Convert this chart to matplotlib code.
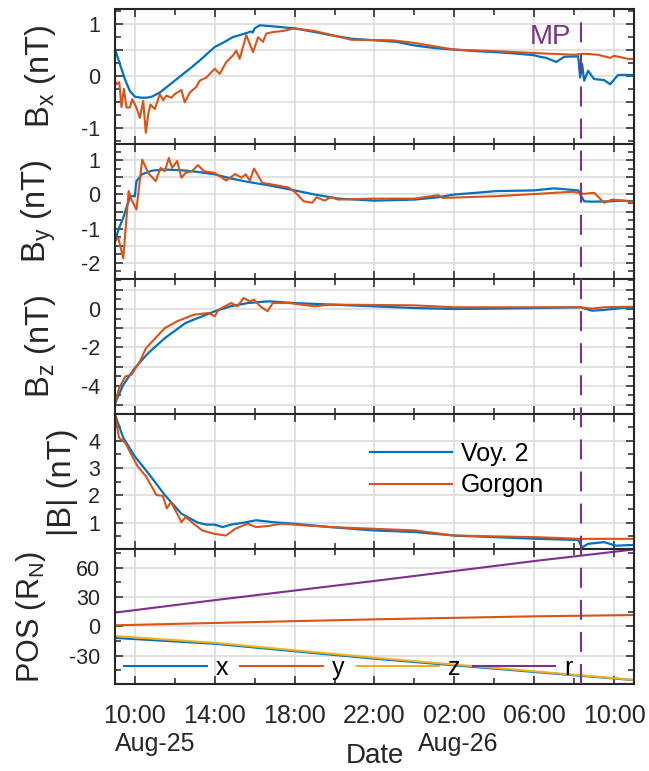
# --------------------------------------------------
#   Voyager 2 vs Gorgon magnetic field and position
# --------------------------------------------------
import numpy as np
import matplotlib
matplotlib.use('Agg')
import matplotlib.pyplot as plt
import matplotlib.dates as mdates
from matplotlib.ticker import MultipleLocator, FuncFormatter
from matplotlib.lines import Line2D
from matplotlib.transforms import blended_transform_factory

# --------------------------------------------------
# 1 - Data (hours after 10:00 on Aug-25)
# --------------------------------------------------
bx_voy_t = [-1.0, -0.75, -0.5, -0.25, 0.0, 0.3, 0.6, 0.85, 1.25, 2.0, 2.75, 3.25,
            4.0, 4.5, 4.9, 5.6, 5.8, 5.9, 6.0, 6.25, 6.9, 8.0, 9.0, 9.8, 10.85,
            12.0, 13.1, 14.0, 15.0, 16.0, 17.1, 18.1, 19.2, 20.0, 20.3, 20.6,
            21.1, 21.5, 22.2, 22.3, 22.4, 22.5, 22.7, 23.0, 23.5, 23.8, 24.2, 25.0]
bx_voy = [0.53, 0.23, -0.06, -0.29, -0.40, -0.42, -0.42, -0.40, -0.32, -0.09, 0.14,
          0.30, 0.56, 0.66, 0.75, 0.83, 0.86, 0.84, 0.92, 0.98, 0.96, 0.92, 0.85,
          0.79, 0.72, 0.69, 0.66, 0.59, 0.54, 0.51, 0.48, 0.46, 0.43, 0.40, 0.37,
          0.35, 0.27, 0.37, 0.38, -0.03, 0.23, -0.09, 0.10, -0.06, -0.08, -0.16,
          0.02, 0.02]
bx_gor_t = [-1.0, -0.9, -0.78, -0.67, -0.55, -0.42, -0.25, -0.13, 0.08, 0.25, 0.42,
            0.55, 0.67, 0.78, 1.0, 1.25, 1.42, 1.58, 1.83, 2.0, 2.33, 2.5, 2.75,
            3.08, 3.25, 3.58, 4.0, 4.25, 4.58, 4.92, 5.08, 5.25, 5.58, 5.92, 6.17,
            6.42, 6.58, 6.92, 7.42, 8.0, 9.0, 10.85, 12.9, 14.0, 15.2, 16.0, 18.1,
            20.2, 22.0, 22.5, 23.2, 23.8, 24.0, 24.7, 25.0]
bx_gor = [-0.09, -0.16, -0.12, -0.60, -0.25, -0.61, -0.61, -0.45, -0.61, -0.81,
          -0.48, -1.10, -0.74, -0.55, -0.64, -0.35, -0.47, -0.38, -0.42, -0.35,
          -0.27, -0.51, -0.32, -0.21, -0.09, -0.03, 0.14, 0.04, 0.27, 0.40, 0.49,
          0.33, 0.79, 0.46, 0.75, 0.66, 0.82, 0.85, 0.87, 0.92, 0.87, 0.70, 0.69,
          0.64, 0.56, 0.51, 0.48, 0.44, 0.41, 0.43, 0.41, 0.35, 0.39, 0.33, 0.33]

by_voy_t = [-1.0, -0.79, -0.58, -0.37, -0.21, 0.0, 0.08, 0.35, 0.87, 1.5, 2.33,
            3.16, 4.0, 4.8, 5.65, 6.7, 8.0, 9.0, 10.2, 12.0, 14.0, 15.2, 16.0,
            17.1, 18.1, 20.0, 21.0, 22.2, 22.5, 22.9, 23.8, 24.4, 25.0]
by_voy = [-1.37, -0.98, -0.68, -0.29, -0.05, -0.05, 0.39, 0.59, 0.70, 0.73, 0.71,
          0.66, 0.59, 0.47, 0.37, 0.27, 0.12, 0.0, -0.12, -0.18, -0.15, -0.08,
          0.0, 0.05, 0.10, 0.12, 0.18, 0.12, -0.20, -0.21, -0.20, -0.18, -0.20]
by_gor_t = [-1.0, -0.83, -0.75, -0.58, -0.31, -0.17, 0.08, 0.37, 0.67, 1.04, 1.29,
            1.5, 1.7, 1.87, 2.12, 2.33, 2.54, 2.85, 3.16, 3.47, 4.0, 4.57, 5.03,
            5.34, 5.55, 5.76, 5.97, 6.38, 6.9, 7.73, 8.05, 8.46, 8.88, 9.1, 9.5,
            9.8, 10.2, 11.9, 14.0, 15.2, 15.4, 18.1, 20.2, 21.9, 22.5, 23.0, 23.5,
            23.9, 24.5, 25.0]
by_gor = [-1.37, -1.27, -1.46, -1.87, 0.10, -0.15, -0.44, 1.02, 0.63, 0.39, 0.78,
          0.68, 1.07, 0.78, 0.98, 0.49, 0.63, 0.68, 0.86, 0.68, 0.63, 0.41, 0.60,
          0.49, 0.59, 0.41, 0.76, 0.34, 0.29, 0.20, 0.05, -0.20, -0.24, -0.08,
          -0.18, -0.08, -0.15, -0.12, -0.12, -0.02, -0.10, -0.05, 0.02, 0.08, 0.02,
          0.05, -0.24, -0.15, -0.18, -0.24]

bz_voy_t = [-1.0, -0.58, 0.0, 0.67, 1.5, 2.54, 4.0, 4.8, 5.65, 6.7, 8.0, 9.8, 11.9,
            14.0, 16.0, 18.1, 20.2, 22.3, 22.9, 23.5, 24.4, 25.0]
bz_voy = [-4.95, -3.95, -3.08, -2.30, -1.52, -0.73, -0.12, 0.14, 0.31, 0.40, 0.31,
          0.23, 0.14, 0.05, 0.0, 0.02, 0.05, 0.09, -0.09, -0.05, 0.05, 0.09]
bz_gor_t = [-1.0, -0.79, -0.48, -0.17, 0.25, 0.56, 1.0, 1.5, 2.12, 2.95, 3.68, 4.0,
            4.2, 4.82, 5.13, 5.45, 5.76, 5.97, 6.28, 6.65, 6.9, 7.73, 9.0, 9.8,
            14.0, 16.0, 20.2, 22.3, 22.9, 23.5, 25.0]
bz_gor = [-4.95, -4.13, -3.52, -3.43, -2.74, -2.04, -1.55, -1.0, -0.64, -0.30,
          -0.21, -0.38, -0.03, 0.31, 0.14, 0.57, 0.40, 0.49, 0.14, -0.12, 0.31,
          0.31, 0.14, 0.23, 0.19, 0.09, 0.09, 0.09, 0.02, 0.09, 0.12]

bm_voy_t = [-1.0, -0.58, 0.0, 0.67, 1.5, 2.33, 3.16, 3.58, 4.0, 4.4, 4.8, 5.45,
            6.07, 6.9, 8.0, 9.8, 11.9, 14.0, 16.0, 18.1, 20.2, 22.2, 22.4, 22.7,
            23.5, 24.1, 25.0]
bm_voy = [4.96, 4.10, 3.42, 2.81, 2.01, 1.33, 1.0, 0.93, 0.93, 0.84, 0.93, 1.0,
          1.09, 1.02, 0.96, 0.84, 0.72, 0.66, 0.53, 0.47, 0.41, 0.37, 0.10, 0.23,
          0.29, 0.16, 0.19]
bm_gor_t = [-1.0, -0.79, -0.48, -0.17, 0.15, 0.56, 1.08, 1.4, 1.6, 1.81, 2.12,
            2.33, 2.54, 2.95, 3.37, 4.0, 4.57, 5.03, 5.65, 6.07, 6.7, 7.3, 8.0, 9.8,
            14.0, 16.0, 20.2, 22.3, 25.0]
bm_gor = [4.96, 4.10, 3.92, 3.48, 3.05, 2.69, 2.01, 1.98, 1.52, 1.76, 1.33, 1.02,
          1.21, 0.96, 0.72, 0.59, 0.53, 0.78, 0.96, 0.84, 0.88, 0.96, 0.93, 0.84,
          0.72, 0.53, 0.47, 0.41, 0.41]

pos_t = [-1.0, 4.0, 12.0, 20.0, 25.0]
pos_x = [-12.0, -18.0, -33.3, -46.9, -55.3]
pos_y = [1.0, 3.4, 7.1, 10.2, 11.5]
pos_z = [-10.0, -17.0, -32.3, -46.2, -55.0]
pos_r = [14.0, 26.8, 46.5, 66.9, 78.8]

mp_t = 22.33  # magnetopause crossing

# --------------------------------------------------
# 2 - Style
# --------------------------------------------------
plt.rcParams['font.family'] = ['Liberation Sans', 'DejaVu Sans']
plt.rcParams['mathtext.fontset'] = 'custom'
plt.rcParams['mathtext.rm'] = 'Liberation Sans'
plt.rcParams['mathtext.it'] = 'Liberation Sans:italic'
plt.rcParams['axes.unicode_minus'] = False

c_blue = '#0072BD'
c_orange = '#D95319'
c_yellow = '#EDB120'
c_purple = '#7E2F8E'
axcol = '#262626'

t0 = np.datetime64('1989-08-25T10:00:00')


def to_time(hours):
    sec = np.round(np.asarray(hours) * 3600).astype('int64')
    return t0 + sec.astype('timedelta64[s]')


fig, axs = plt.subplots(5, 1, figsize=(6.49, 7.71), dpi=100, sharex=True)
fig.subplots_adjust(left=0.177, right=0.977, top=0.988, bottom=0.1125, hspace=0)

# (voy t, voy, gorgon t, gorgon, ylabel, ylim, major, minor, label step, label x)
panels = [
    (bx_voy_t, bx_voy, bx_gor_t, bx_gor, r'B$_\mathrm{x}$ (nT)', (-1.32, 1.29), 0.5, 0.25, 1, -0.110),
    (by_voy_t, by_voy, by_gor_t, by_gor, r'B$_\mathrm{y}$ (nT)', (-2.48, 1.47), 0.5, 0.25, 1, -0.110),
    (bz_voy_t, bz_voy, bz_gor_t, bz_gor, r'B$_\mathrm{z}$ (nT)', (-5.49, 1.55), 1, 0.5, 2, -0.110),
    (bm_voy_t, bm_voy, bm_gor_t, bm_gor, '|B| (nT)', (0.03, 4.96), 1, 0.5, 1, -0.071),
]


def int_fmt(step):
    def f(v, pos):
        if abs(v / step - round(v / step)) < 1e-6:
            return '%d' % round(v)
        return ''
    return FuncFormatter(f)


for ax, (tv, v, tg, g, lab, yl, maj, mnr, lstep, lx) in zip(axs[:4], panels):
    ax.plot(to_time(tv), v, color=c_blue, lw=1.6, label='Voy. 2')
    ax.plot(to_time(tg), g, color=c_orange, lw=1.5, label='Gorgon')
    ax.set_ylim(*yl)
    ax.yaxis.set_major_locator(MultipleLocator(maj))
    ax.yaxis.set_minor_locator(MultipleLocator(mnr))
    ax.yaxis.set_major_formatter(int_fmt(lstep))
    ax.set_ylabel(lab, fontsize=23.5)
    ax.yaxis.set_label_coords(lx, 0.5)

# position panel
ax5 = axs[4]
tp = to_time(pos_t)
ax5.plot(tp, pos_x, color=c_blue, lw=1.5, label='x')
ax5.plot(tp, pos_y, color=c_orange, lw=1.5, label='y')
ax5.plot(tp, pos_z, color=c_yellow, lw=1.5, label='z')
ax5.plot(tp, pos_r, color=c_purple, lw=1.5, label='r')
ax5.set_ylim(-59.5, 79)
ax5.yaxis.set_major_locator(MultipleLocator(30))
ax5.yaxis.set_minor_locator(MultipleLocator(15))
ax5.set_ylabel(r'POS (R$_\mathrm{N}$)', fontsize=22)
ax5.yaxis.set_label_coords(-0.129, 0.5)

# --------------------------------------------------
# 3 - Axes formatting
# --------------------------------------------------
for ax in axs:
    ax.set_xlim(to_time(-1.0), to_time(25.0))
    ax.xaxis.set_major_locator(mdates.HourLocator(byhour=[2, 6, 10, 14, 18, 22]))
    ax.xaxis.set_minor_locator(mdates.HourLocator(byhour=range(0, 24, 2)))
    ax.xaxis.set_major_formatter(mdates.DateFormatter('%H:%M'))
    ax.grid(True, which='major', color='#dedede', lw=1.3)
    ax.set_axisbelow(True)
    ax.tick_params(which='both', direction='in', top=True, right=True,
                   colors=axcol, width=1.1)
    ax.tick_params(which='major', length=6)
    ax.tick_params(which='minor', length=4)
    ax.tick_params(axis='y', labelsize=15.5, pad=10.5)
    ax.tick_params(axis='x', labelsize=18, pad=14)
    for s in ax.spines.values():
        s.set_linewidth(1.5)
        s.set_color(axcol)
    ax.yaxis.label.set_color(axcol)
for ax in axs[:4]:
    ax.tick_params(axis='x', labelbottom=False)

# legends
axs[3].legend(loc='center left', bbox_to_anchor=(0.491, 0.59), frameon=False,
              fontsize=18, handlelength=3.3, handletextpad=0.35,
              labelspacing=0.3, borderpad=0, borderaxespad=0)
ax5.legend(loc='center left', bbox_to_anchor=(0.018, 0.124), ncol=4,
           frameon=False, fontsize=18, handlelength=3.3, handletextpad=0.35,
           columnspacing=0.5, borderpad=0, borderaxespad=0)

# date labels and axis label
xt = ax5.get_xaxis_transform()
ax5.text(to_time(-1.0), -0.492, 'Aug-25', transform=xt, ha='left',
         va='baseline', fontsize=18, color=axcol)
ax5.text(to_time(14.2), -0.492, 'Aug-26', transform=xt, ha='left',
         va='baseline', fontsize=18, color=axcol)
ax5.text(0.5, -0.58, 'Date', transform=ax5.transAxes, ha='center',
         va='baseline', fontsize=20, color=axcol)

# magnetopause line across all panels
mp_x = mdates.date2num(to_time(mp_t))
tr = blended_transform_factory(ax5.transData, fig.transFigure)
y_top = axs[0].get_position().y1
y_bot = ax5.get_position().y0
mp_line = Line2D([mp_x, mp_x], [y_bot, y_top], transform=tr, color=c_purple,
                 lw=1.5, linestyle=(0, (9.6, 5.8)), clip_on=False)
fig.add_artist(mp_line)
axs[0].text(to_time(mp_t - 0.5), 0.62, 'MP', ha='right', va='baseline',
            fontsize=20, color=c_purple)

fig.savefig('out.png', dpi=100)
